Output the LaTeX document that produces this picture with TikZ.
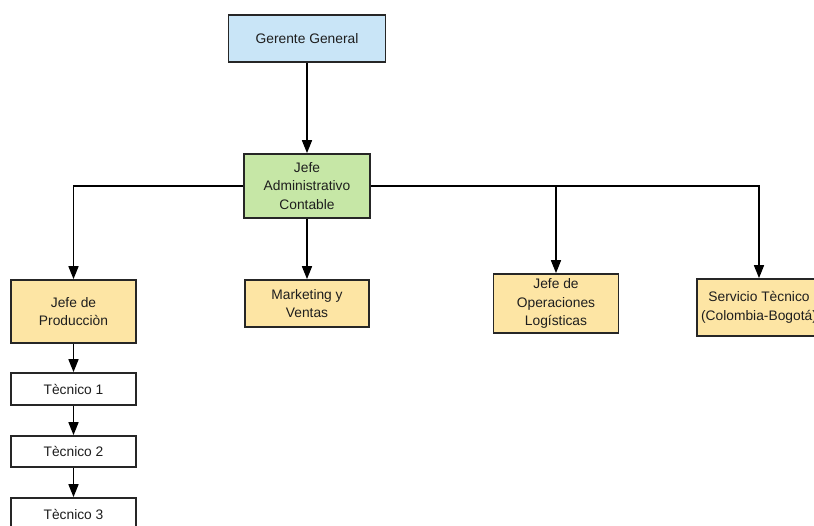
\documentclass[tikz,border=0pt]{standalone}
\usepackage{fontspec}
\setmainfont{Liberation Sans}
\usetikzlibrary{arrows.meta}
\definecolor{bluebox}{RGB}{201,229,247}
\definecolor{greenbox}{RGB}{198,231,166}
\definecolor{yellowbox}{RGB}{253,229,164}
\definecolor{txt}{RGB}{30,30,30}
\begin{document}
\begin{tikzpicture}[x=1pt,y=-1pt,
  box/.style={draw=black!85, line width=1.7pt, align=center, text=txt,
    font=\fontsize{13.8}{18.5}\selectfont, inner sep=0pt},
  arr/.style={draw=black, line width=1.6pt, -{Triangle[length=13pt,width=10pt]}}]
\useasboundingbox (0,0) rectangle (814,525);
\clip (0,0) rectangle (814,525);
\fill[white] (0,0) rectangle (814,525);
\node[box, fill=bluebox, minimum width=157pt, minimum height=47pt] (gg) at (307,38.5) {Gerente General};
\node[box, fill=greenbox, minimum width=126pt, minimum height=64pt] (ja) at (307,186) {Jefe\\Administrativo\\Contable};
\node[box, fill=yellowbox, minimum width=125pt, minimum height=63pt] (jp) at (73.5,311.5) {Jefe de\\Producciòn};
\node[box, fill=yellowbox, minimum width=124pt, minimum height=47pt] (mv) at (307,303.5) {Marketing y\\Ventas};
\node[box, fill=yellowbox, minimum width=125pt, minimum height=59pt] (jo) at (556,303.5) {Jefe de\\Operaciones\\Logísticas};
\node[box, fill=yellowbox, minimum width=124pt, minimum height=57pt] (st) at (759,307.5) {Servicio Tècnico\\(Colombia-Bogotá)};
\node[box, fill=white, minimum width=125pt, minimum height=32pt] (t1) at (73.5,389) {Tècnico 1};
\node[box, fill=white, minimum width=125pt, minimum height=31pt] (t2) at (73.5,451.5) {Tècnico 2};
\node[box, fill=white, minimum width=125pt, minimum height=32pt] (t3) at (73.5,514) {Tècnico 3};
\draw[arr] (gg.south) -- (ja.north);
\draw[arr] (ja.west) -| (jp.north);
\draw[arr] (ja.south) -- (mv.north);
\draw[arr] (ja.east) -| (st.north);
\draw[arr] (jo.north |- ja.east) -- (jo.north);
\draw[arr] (jp.south) -- (t1.north);
\draw[arr] (t1.south) -- (t2.north);
\draw[arr] (t2.south) -- (t3.north);
\end{tikzpicture}
\end{document}
